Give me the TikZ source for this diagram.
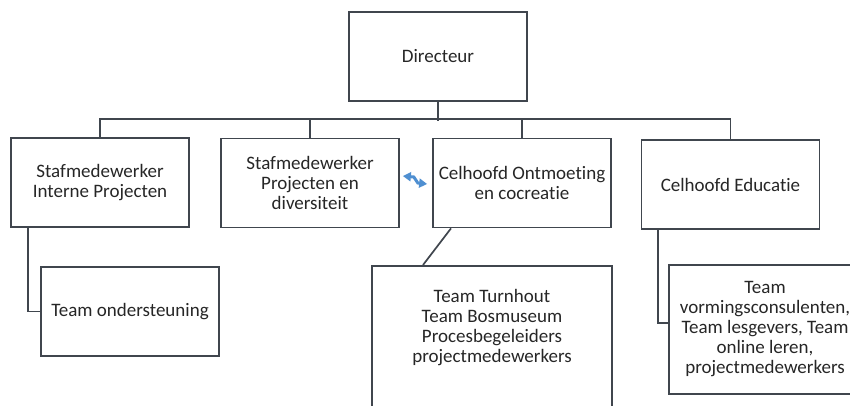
\documentclass[tikz,border=0pt]{standalone}
\usepackage{fontspec}
\setmainfont{Carlito}[Ligatures=NoCommon]
\usetikzlibrary{arrows.meta}
\definecolor{boxline}{RGB}{64,70,78}
\definecolor{duoblue}{RGB}{79,143,209}

\begin{document}
\begin{tikzpicture}[x=1pt,y=-1pt]
\useasboundingbox (0,0) rectangle (850,405);
\begin{scope}[every node/.style={rectangle,draw=boxline,line width=1.7pt,minimum width=178pt,minimum height=89pt,align=center,text=black!85,font=\fontsize{19}{20}\selectfont}]
    \node (dir) at (438,56.5) {Directeur};
    \node (stafint) at (100,182.5) {Stafmedewerker\\Interne Projecten};
    \node (stafdiv) at (310,183) {Stafmedewerker\\Projecten en\\diversiteit};
    \node (ontmoet) at (522,183) {Celhoofd Ontmoeting\\en cocreatie};
    \node (educ) at (730.5,184.5) {Celhoofd Educatie};
    \node (onderst) at (130,311.5) {Team ondersteuning};
    \node (team)[minimum width=240pt,minimum height=160pt,anchor=north] at (492,265) {};
    \node (teamtxt)[draw=none] at (492,328) {Team Turnhout\\Team Bosmuseum\\Procesbegeleiders\\projectmedewerkers};
    \node (vorm)[minimum width=192pt,minimum height=129pt] at (765,329.5) {Team\\vormingsconsulenten,\\Team lesgevers, Team\\online leren,\\projectmedewerkers};
\end{scope}

\begin{scope}[every path/.style={draw=boxline,line width=1.7pt}]
    \path (dir.south) -- ++(0,19);
    \path (stafint.north) -- ++(0,-18) -| (educ.north);
    \path (stafdiv.north) -- ++(0,-18);
    \path (ontmoet.north) -- ++(0,-18);
    \path ([xshift=-72pt]stafint.south) |- (onderst.west);
    \path ([xshift=-71pt]ontmoet.south) -- ([xshift=-69pt]team.north);
    \path ([xshift=-72.5pt]educ.south) |- ([yshift=6.5pt]vorm.west);
\end{scope}

\draw[duoblue,line width=3pt,{Triangle[length=8pt,width=9pt]}-{Triangle[length=8pt,width=9pt]}]
    ([xshift=3pt,yshift=7pt]stafdiv.east) -- ++(11,1) -- ++(4,6) -- ([xshift=-5pt,yshift=-1pt]ontmoet.west);
\end{tikzpicture}
\end{document}
